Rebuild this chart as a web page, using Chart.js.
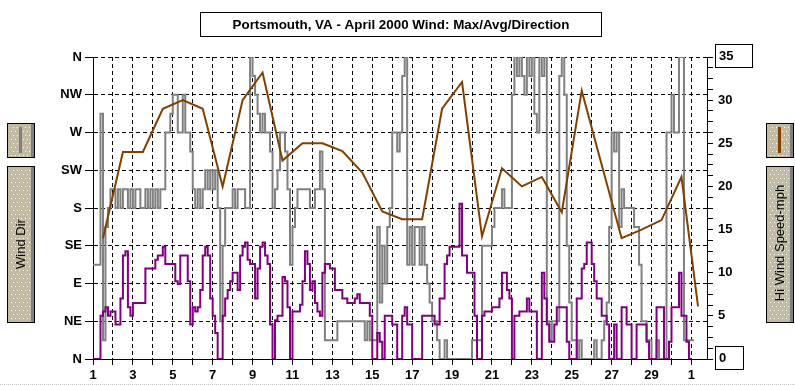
<!DOCTYPE html>
<html>
<head>
<meta charset="utf-8">
<script src="https://cdn.jsdelivr.net/npm/chart.js@4.4.1/dist/chart.umd.min.js"></script>
<style>
  html, body { margin: 0; padding: 0; background: #fff; }
  canvas { display: block; }
</style>
</head>
<body>
<canvas id="windChart" width="795" height="386"></canvas>
<script>
// compass labels for the left axis, bottom (0 deg) to top (360 deg)
const dirLabels = ['N', 'NE', 'E', 'SE', 'S', 'SW', 'W', 'NW', 'N'];

// 3-hourly average wind speed (mph), one row per day, April 1 .. May 1
const avgSpeed = [
  0, 0, 0, 5, 5.5, 6, 5, 5.5,
  5.5, 4, 4, 7, 12, 12.5, 6, 5,
  6.5, 6.5, 6.5, 6.5, 6.5, 10.5, 10.5, 10.5,
  10.5, 11.5, 12, 12, 13, 11, 11, 11,
  11, 9, 8.7, 12, 12, 12, 9, 4,
  6, 5.5, 6, 8, 12, 13, 12, 7,
  5, 3, 0, 0, 5, 7, 8, 9,
  10, 10, 8, 12, 13, 13.5, 11.5, 11,
  11, 7, 10.5, 13, 13.5, 12, 11, 4,
  0, 4.5, 5, 5, 9.5, 9, 6, 0,
  5.5, 5.5, 5.5, 6.3, 9, 12.5, 11, 8,
  9, 6.5, 5.5, 5, 10, 11, 11, 10.5,
  10.5, 8, 8, 8, 7, 7, 6.5, 6.5,
  6.5, 7, 7.5, 6.5, 6.5, 6.5, 6.5, 5,
  0, 0, 3, 2, 0, 5, 5, 5,
  4, 4, 0, 0, 5, 6, 4, 4,
  0, 0, 0, 0, 5, 5, 5, 5,
  5, 4, 4, 7, 7, 11, 12, 13,
  13, 13, 13, 18, 12, 12, 10, 10,
  10, 5, 0, 0, 5, 5.5, 5.5, 5.5,
  6, 6, 6, 7, 10, 10, 8, 7,
  0, 5, 5, 5.5, 5.5, 5.5, 7, 5.5,
  5.5, 5.5, 0, 0, 10, 7, 4, 2,
  2, 4, 6, 6, 6, 6, 2, 0,
  0, 0, 7, 7, 10.5, 11, 13.5, 13.5,
  11, 9, 7, 7, 5, 5, 4, 0,
  0, 4, 0, 0, 6, 6, 4, 4,
  0, 0, 4, 4, 4, 4, 2, 0,
  0, 0, 6, 6, 6, 0, 0, 2,
  6, 6, 6, 10, 5, 5, 2, 0,
  0
];

// 3-hourly wind direction (degrees), same time steps
const windDir = [
  112.5, 112.5, 112.5, 292.5, 22.5, 157.5, 180, 202.5,
  202.5, 180, 202.5, 180, 202.5, 202.5, 180, 202.5,
  180, 202.5, 202.5, 180, 180, 202.5, 180, 202.5,
  180, 202.5, 180, 202.5, 202.5, 270, 270, 292.5,
  315, 315, 270, 270, 315, 270, 270, 247.5,
  202.5, 180, 202.5, 180, 202.5, 225, 202.5, 225,
  202.5, 225, 180, 45, 135, 180, 180, 180,
  202.5, 180, 202.5, 202.5, 202.5, 180, 180, 360,
  337.5, 315, 292.5, 270, 292.5, 270, 270, 247.5,
  180, 202.5, 225, 270, 270, 247.5, 202.5, 112.5,
  157.5, 180, 202.5, 202.5, 202.5, 202.5, 202.5, 180,
  180, 202.5, 202.5, 247.5, 202.5, 22.5, 22.5, 22.5,
  22.5, 22.5, 45, 45, 45, 45, 45, 45,
  45, 45, 45, 45, 45, 22.5, 45, 22.5,
  22.5, 22.5, 157.5, 67.5, 135, 90, 157.5, 180,
  270, 270, 247.5, 270, 337.5, 360, 112.5, 157.5,
  112.5, 157.5, 157.5, 112.5, 157.5, 112.5, 90, 67.5,
  45, 45, 22.5, 0, 0, 22.5, 0, 0,
  0, 0, 0, 0, 0, 0, 0, 0,
  22.5, 22.5, 22.5, 22.5, 135, 135, 135, 135,
  157.5, 180, 180, 180, 202.5, 180, 180, 180,
  315, 360, 337.5, 360, 337.5, 315, 360, 337.5,
  360, 292.5, 270, 360, 337.5, 360, 45, 22.5,
  45, 45, 45, 337.5, 360, 315, 135, 67.5,
  22.5, 22.5, 0, 22.5, 0, 0, 0, 0,
  0, 22.5, 0, 0, 22.5, 45, 67.5, 157.5,
  270, 247.5, 270, 157.5, 202.5, 180, 180, 180,
  180, 157.5, 157.5, 112.5, 45, 45, 22.5, 22.5,
  0, 0, 22.5, 0, 0, 0, 270, 270,
  315, 270, 270, 360, 360, 22.5, 22.5, 22.5,
  22.5, 22.5
];

// daily maximum wind speed (mph) and the day position it is plotted at
const maxSpeed = [14, 24, 24, 29, 30, 29, 20, 30, 33.2, 23, 25, 25, 24.1, 21.6, 17.1,
                  16.2, 16.2, 29, 32.1, 14.2, 22.1, 20, 21.1, 17, 31.1, 22.5, 14, 15, 16.1, 21.1, 6.1];
const maxDay = [1.5, 2.5, 3.5, 4.5, 5.5, 6.5, 7.5, 8.5, 9.5, 10.5, 11.5, 12.5, 13.5, 14.5, 15.5,
                16.5, 17.5, 18.5, 19.5, 20.5, 21.5, 22.5, 23.5, 24.5, 25.5, 26.5, 27.5, 28.5, 29.5, 30.5, 31.33];

const FONT = '"Liberation Sans", Arial, sans-serif';
const tickFont = { family: FONT, size: 13, weight: 'bold' };

const stepTime = i => 1 + i / 8;

function sandBox(c, x, y, w, h) {
  c.fillStyle = '#c2baa2';
  c.fillRect(x, y, w, h);
  c.fillStyle = '#ffffff';
  for (let yy = y + 4; yy < y + h - 2; yy += 4) {
    const off = ((yy - y) / 4) % 2 ? 2 : 0;
    for (let xx = x + 4 + off; xx < x + w - 5; xx += 4) c.fillRect(xx, yy, 1, 1);
  }
  c.fillStyle = '#808080';
  c.fillRect(x + w - 4, y + 1, 3, h - 2);
  c.strokeStyle = '#000';
  c.lineWidth = 1;
  c.strokeRect(x + 0.5, y + 0.5, w - 1, h - 1);
}

function textBox(c, x, y, w, h) {
  c.fillStyle = '#fff';
  c.fillRect(x, y, w, h);
  c.strokeStyle = '#000';
  c.lineWidth = 1;
  c.strokeRect(x + 0.5, y + 0.5, w - 1, h - 1);
}

const decorations = {
  id: 'decorations',
  afterDraw(chart) {
    const c = chart.ctx;
    c.save();

    // title
    textBox(c, 200, 12, 402, 25);
    c.fillStyle = '#000';
    c.font = 'bold 13.4px ' + FONT;
    c.textAlign = 'center';
    c.textBaseline = 'middle';
    c.fillText('Portsmouth, VA - April 2000 Wind: Max/Avg/Direction', 401, 25);

    // boxed end labels of the speed axis
    const s = chart.scales.ySpd;
    const yTop = s.getPixelForValue(35);
    const yBot = s.getPixelForValue(0);
    textBox(c, s.left + 8, yTop - 13, 38, 24);
    textBox(c, s.left + 8, yBot - 13, 29, 24);
    c.fillStyle = '#000';
    c.font = 'bold 13px ' + FONT;
    c.textAlign = 'left';
    c.fillText('35', s.left + 12, yTop - 1);
    c.fillText('0', s.left + 12, yBot - 1);

    // side legends
    sandBox(c, 7, 123, 28, 35);
    sandBox(c, 7, 166, 28, 157);
    sandBox(c, 766, 123, 28, 35);
    sandBox(c, 766, 166, 28, 157);
    c.fillStyle = '#808080';
    c.fillRect(19, 127, 3, 26);
    c.fillStyle = '#804000';
    c.fillRect(778, 127, 3, 26);

    c.fillStyle = '#000';
    c.font = '13px ' + FONT;
    c.textAlign = 'center';
    c.textBaseline = 'middle';
    c.save();
    c.translate(21, 244);
    c.rotate(-Math.PI / 2);
    c.fillText('Wind Dir', 0, 0);
    c.restore();
    c.save();
    c.translate(780, 243);
    c.rotate(-Math.PI / 2);
    c.fillText('Hi Wind Speed-mph', 0, 0);
    c.restore();

    // window edge
    c.strokeStyle = '#c8c8c8';
    c.setLineDash([1, 1]);
    c.beginPath();
    c.moveTo(0, 384.5);
    c.lineTo(795, 384.5);
    c.stroke();
    c.restore();
  }
};

new Chart(document.getElementById('windChart'), {
  type: 'line',
  data: {
    datasets: [
      {
        label: 'Hi Wind Speed-mph',
        data: maxSpeed.map((v, i) => ({ x: maxDay[i], y: v })),
        yAxisID: 'ySpd',
        borderColor: '#804000',
        borderWidth: 2,
        pointRadius: 0,
        tension: 0
      },
      {
        label: 'Avg Wind',
        data: avgSpeed.map((v, i) => ({ x: stepTime(i), y: v })),
        yAxisID: 'ySpd',
        borderColor: '#800080',
        borderWidth: 2,
        pointRadius: 0,
        stepped: true
      },
      {
        label: 'Wind Dir',
        data: windDir.map((v, i) => ({ x: stepTime(i), y: v })),
        yAxisID: 'yDir',
        borderColor: '#808080',
        borderWidth: 2,
        pointRadius: 0,
        stepped: true
      }
    ]
  },
  options: {
    responsive: false,
    animation: false,
    layout: { padding: { top: 57, left: 0, right: 0, bottom: 0 } },
    plugins: {
      legend: { display: false },
      tooltip: { enabled: false }
    },
    scales: {
      x: {
        type: 'linear',
        position: 'bottom',
        min: 1,
        max: 31.78,
        afterFit: s => { s.height = 27; },
        ticks: {
          stepSize: 1,
          autoSkip: false,
          includeBounds: false,
          maxRotation: 0,
          padding: 3,
          color: '#000',
          font: tickFont,
          callback: v => (v === 31 ? '1' : (v % 2 === 1 ? String(v) : ''))
        },
        grid: { color: '#000', lineWidth: 1, tickLength: 6 },
        border: { display: true, color: '#000', width: 1, dash: [4, 3] }
      },
      yDir: {
        type: 'linear',
        position: 'left',
        min: 0,
        max: 360,
        afterFit: s => { s.width = 93; },
        ticks: {
          stepSize: 45,
          padding: 3,
          color: '#000',
          font: tickFont,
          callback: v => dirLabels[Math.round(v / 45)]
        },
        grid: { color: '#000', lineWidth: 1, tickLength: 8 },
        border: { display: true, color: '#000', width: 1, dash: [4, 3] }
      },
      ySpd: {
        type: 'linear',
        position: 'right',
        min: 0,
        max: 35,
        afterFit: s => { s.width = 88; },
        ticks: {
          stepSize: 1.25,
          autoSkip: false,
          padding: 5,
          color: '#000',
          font: tickFont,
          callback: v => (v % 5 === 0 && v > 0 && v < 35 ? String(v) : '')
        },
        grid: { drawOnChartArea: false, color: '#000', lineWidth: 1, tickLength: 6 },
        border: { display: true, color: '#000', width: 1 }
      }
    }
  },
  plugins: [decorations]
});
</script>
</body>
</html>
